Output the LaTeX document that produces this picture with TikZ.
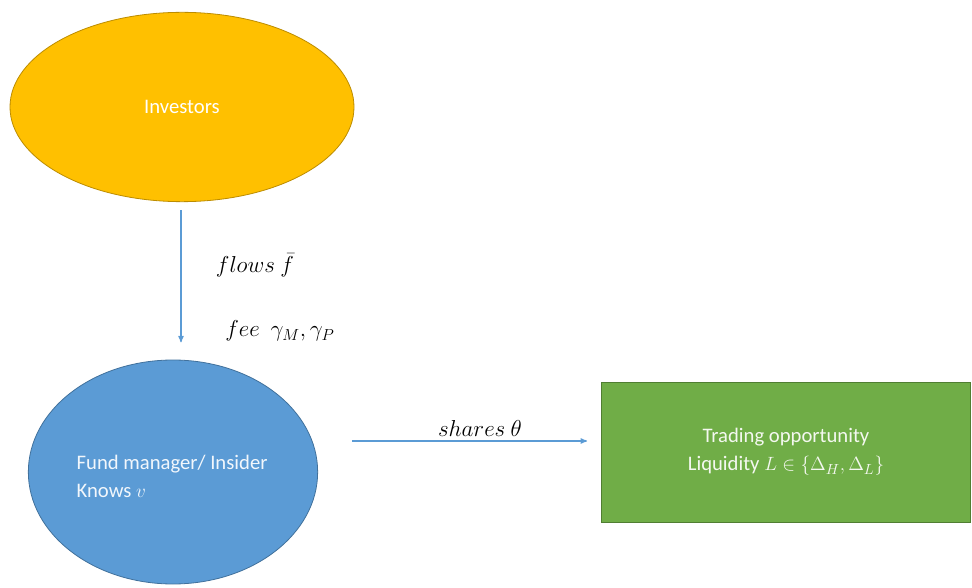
\documentclass[tikz,border=0pt]{standalone}
\usepackage{fontspec}
\setmainfont{Carlito}
\usetikzlibrary{arrows}
\usetikzlibrary{shapes.geometric}
\definecolor{invfill}{HTML}{FFC000}
\definecolor{invline}{HTML}{BC8C00}
\definecolor{fundfill}{HTML}{5B9BD5}
\definecolor{fundline}{HTML}{41719C}
\definecolor{tradefill}{HTML}{70AD47}
\definecolor{tradeline}{HTML}{507E32}
\definecolor{arrowblue}{HTML}{5B9BD5}

\begin{document}
\begin{tikzpicture} [x=0.75pt, y=-0.75pt, font=\fontsize{15.5}{21}\selectfont,
  flow/.style={arrowblue, thick, ->, >=stealth'},
  lbl/.style={font=\fontsize{18}{22}\selectfont, inner sep=1pt}]
\useasboundingbox (0,0) rectangle (972,588);
\node[ellipse, draw=invline, semithick, fill=invfill, text=white,
  minimum width=258pt, minimum height=142pt] (inv) at (182,107) {Investors};
\node[ellipse, draw=fundline, semithick, fill=fundfill, text=white!92!fundfill,
  minimum width=217pt, minimum height=168pt] (fund) at (173,472) {};
\node[anchor=west, align=left, text=white!92!fundfill] (fundtxt) at (72,476)
  {Fund manager/ Insider\\Knows $v$};
\node[draw=tradeline, semithick, fill=tradefill, text=white!92!tradefill, align=center,
  minimum width=277pt, minimum height=105pt] (trade) at (786,452)
  {Trading opportunity\\Liquidity $L\in\{\Delta_H,\Delta_L\}$};
% investors -> fund manager
\draw[flow, shorten <=6pt, shorten >=13pt] ([xshift=-0.75pt]inv.south) -- ([xshift=-0.75pt]inv.south |- fund.north);
\node[lbl] (flows) at (255,265) {$flows\ \bar f$};
\node[lbl] (fee) at (280,331) {$fee\ \ \gamma_M,\gamma_P$};
% fund manager -> trading
\coordinate (s1) at (352,441);
\coordinate (s2) at (587,441);
\draw[flow] (s1) -- (s2);
\node[lbl] (shares) at (480,428) {$shares\ \theta$};
\end{tikzpicture}
\end{document}
